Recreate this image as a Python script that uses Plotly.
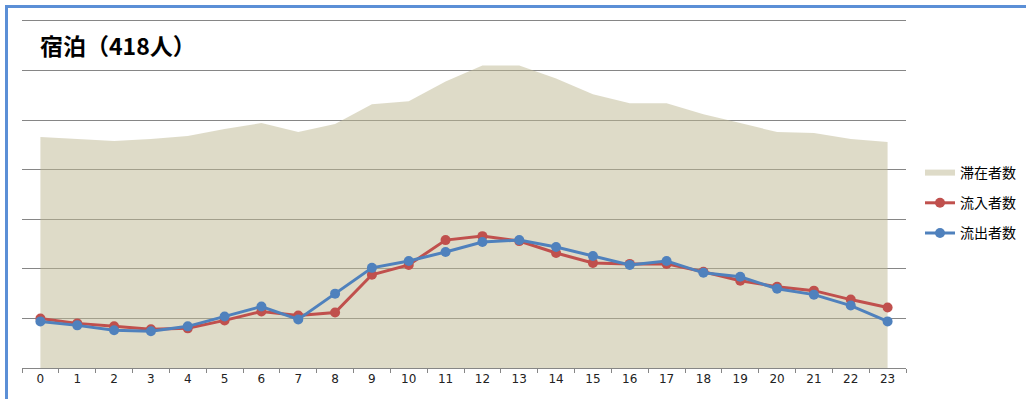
import plotly.graph_objects as go

hours = [str(h) for h in range(24)]
stay = [233, 231, 229, 231, 234, 241, 247, 238, 246, 266, 269, 289,
        305, 305, 292, 276, 267, 267, 256, 247, 238, 237, 231, 228]
inflow = [50, 45, 42, 39, 40, 48, 57, 53, 56, 94, 104, 129,
          133, 128, 116, 106, 105, 105, 97, 88, 82, 78, 69, 61]
outflow = [47, 43, 38, 37, 42, 52, 62, 49, 75, 101, 108, 117,
           127, 129, 122, 113, 104, 108, 96, 92, 80, 74, 63, 47]
names = ["滞在者数", "流入者数", "流出者数"]
title_text = "宿泊（418人）"

W, H = 1026, 399
L, R, T, B = 22, 906, 19, 368
YMAX = 352


def px(x):
    return (x - L) / (R - L)


def py(y):
    return (B - y) / (B - T)


fig = go.Figure()
fig.add_trace(go.Scatter(
    x=hours, y=stay, name=names[0], mode="none", fill="tozeroy",
    fillcolor="rgba(189,183,145,0.5)", legendgroup="a",
))
fig.add_trace(go.Scatter(
    x=hours, y=inflow, name=names[1], mode="lines+markers",
    line=dict(color="#C0504D", width=3), marker=dict(size=10, color="#C0504D"),
    legendgroup="b",
))
fig.add_trace(go.Scatter(
    x=hours, y=outflow, name=names[2], mode="lines+markers",
    line=dict(color="#4F81BD", width=3), marker=dict(size=10, color="#4F81BD"),
    legendgroup="c",
))

fig.update_layout(
    width=W, height=H,
    margin=dict(l=L, r=W - R, t=T, b=H - B, pad=0, autoexpand=False),
    paper_bgcolor="white", plot_bgcolor="white",
    font=dict(family="Noto Sans CJK JP, sans-serif", color="#000000"),
    showlegend=True,
    legend=dict(
        x=px(920), xanchor="left", y=py(157), yanchor="top",
        font=dict(size=14, color="#000000"),
        tracegroupgap=9, bgcolor="rgba(0,0,0,0)",
    ),
    xaxis=dict(
        type="category", tickson="boundaries", showline=True,
        range=[-0.5, 23.5], autorange=False,
        linecolor="#868686", linewidth=1, ticks="outside", ticklen=4,
        tickcolor="#868686", showgrid=False, zeroline=False,
        tickfont=dict(size=12, color="#222222",
                      family="DejaVu Sans, sans-serif"),
        fixedrange=True,
    ),
    yaxis=dict(
        range=[0, YMAX], autorange=False, tick0=0, dtick=50,
        showticklabels=False, showgrid=True,
        gridcolor="#868686", gridwidth=1, zeroline=False, showline=False,
        fixedrange=True,
    ),
    annotations=[dict(
        text="<b>" + title_text + "</b>", xref="paper", yref="paper",
        x=px(38), y=py(45), xanchor="left", yanchor="middle",
        showarrow=False, font=dict(size=23, color="#000000",
                                   family="Noto Sans CJK JP, sans-serif"),
    )],
    shapes=[
        dict(type="line", xref="paper", yref="paper",
             x0=px(6.5), x1=px(6.5), y0=py(5), y1=py(H + 5),
             line=dict(color="#5B8FD6", width=3)),
        dict(type="line", xref="paper", yref="paper",
             x0=px(5), x1=px(W + 5), y0=py(6.5), y1=py(6.5),
             line=dict(color="#5B8FD6", width=3)),
    ],
)

fig.write_html(
    "out.html",
    config={"displayModeBar": False},
    post_script="document.body.style.margin='0';document.body.style.padding='0';",
)
